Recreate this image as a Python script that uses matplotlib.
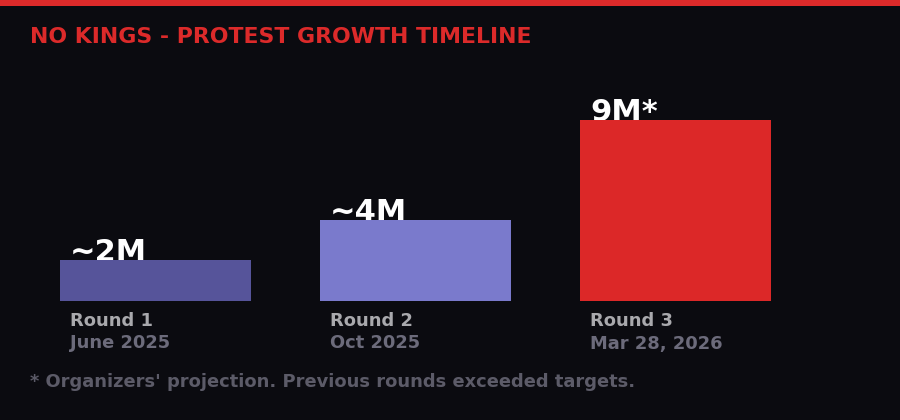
import matplotlib
matplotlib.use("Agg")
import matplotlib.pyplot as plt
from matplotlib.patches import Rectangle

# ---- data ----
rounds = ["Round 1", "Round 2", "Round 3"]
dates = ["June 2025", "Oct 2025", "Mar 28, 2026"]
values_m = [2, 4, 9]
value_labels = ["~2M", "~4M", "9M*"]
bar_colors = ["#56549a", "#7a7acc", "#dc2828"]
title = "NO KINGS - PROTEST GROWTH TIMELINE"
footnote = "* Organizers' projection. Previous rounds exceeded targets."

BG = "#0b0b10"
RED = "#dc2a2a"
W, H = 900, 420
DPI = 100

fig = plt.figure(figsize=(W / DPI, H / DPI), dpi=DPI, facecolor=BG)

# top stripe
fig.patches.append(Rectangle((0, 1 - 6 / H), 1, 6 / H, transform=fig.transFigure,
                             facecolor=RED, edgecolor="none", zorder=0))

# axes: full width, baseline at y≈300.5px from top, ~20px per million
spacing = 260.0
bar_w = 191.0 / spacing
first_center = 155.5
ax_bottom_px = H - 300.5
ax_height_px = 201
ax = fig.add_axes([0, ax_bottom_px / H, 1, ax_height_px / H])
ax.set_facecolor("none")
ax.set_xlim(-first_center / spacing, (W - first_center) / spacing)
ax.set_ylim(0, ax_height_px / 20.05)
ax.axis("off")

xs = list(range(len(values_m)))
ax.bar(xs, values_m, width=bar_w, color=bar_colors, zorder=3)

for x, v, lab, r, d in zip(xs, values_m, value_labels, rounds, dates):
    left = x - bar_w / 2
    ax.annotate(lab, xy=(left, v), xytext=(10, -1), textcoords="offset pixels",
                ha="left", va="baseline", color="white", fontsize=22,
                fontweight="bold", zorder=2, annotation_clip=False)
    ax.annotate(r, xy=(left, 0), xytext=(10, -26), textcoords="offset pixels",
                ha="left", va="baseline", color="#a9a9ad", fontsize=12.9,
                fontweight="bold", annotation_clip=False)
    ax.annotate(d, xy=(left, 0), xytext=(10, -48), textcoords="offset pixels",
                ha="left", va="baseline", color="#6c6b7b", fontsize=12.9,
                fontweight="bold", annotation_clip=False)

fig.text(30 / W, 1 - 43 / H, title, color=RED, fontsize=15.8, fontweight="bold",
         ha="left", va="baseline")
fig.text(30 / W, 1 - 387 / H, footnote, color="#5c5b68", fontsize=12.9,
         fontweight="bold", ha="left", va="baseline")

fig.savefig("out.png", dpi=DPI, facecolor=BG)
